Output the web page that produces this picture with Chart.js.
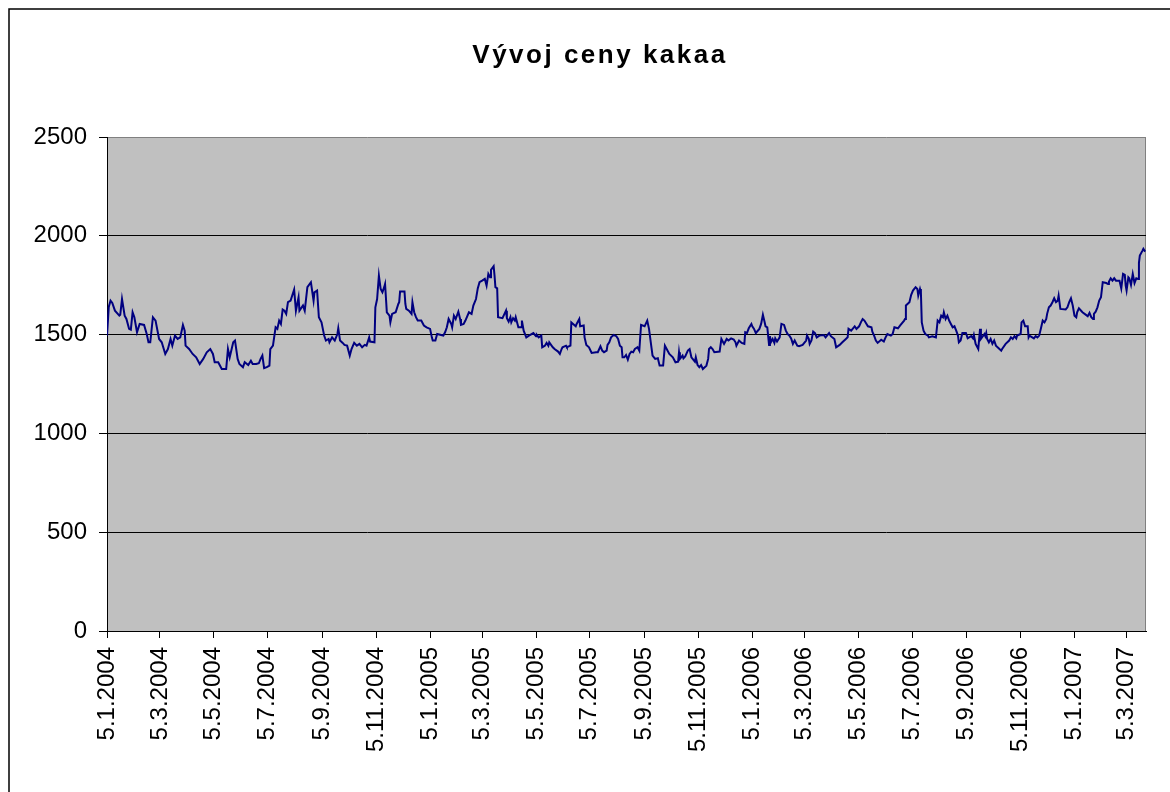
<!DOCTYPE html>
<html>
<head>
<meta charset="utf-8">
<script src="https://cdn.jsdelivr.net/npm/chart.js@4/dist/chart.umd.min.js"></script>
<style>
html, body { margin: 0; padding: 0; background: #fff; }
#wrap { position: relative; width: 1170px; height: 792px; }
</style>
</head>
<body>
<div id="wrap"><canvas id="cocoaChart"></canvas></div>
<script>
// Cocoa price 5.1.2004 – end of March 2007

const chartTitle = 'Vývoj ceny kakaa';
const lastDay = 1177; // right edge of the plot, days after 5.1.2004

const tickLabels = ['5.1.2004','5.3.2004','5.5.2004','5.7.2004','5.9.2004','5.11.2004',
  '5.1.2005','5.3.2005','5.5.2005','5.7.2005','5.9.2005','5.11.2005',
  '5.1.2006','5.3.2006','5.5.2006','5.7.2006','5.9.2006','5.11.2006',
  '5.1.2007','5.3.2007'];
const yTicks = [0, 500, 1000, 1500, 2000, 2500];

// day offsets from 5.1.2004
const days = [
  0,2,4,6,9,14,15,17,20,22,25,27,29,31,34,37,42,45,47,49,52,55,59,62,66,69,72,74,77,80,83,86,88,89,93,97,
  101,105,109,113,117,120,122,126,130,135,137,139,143,145,148,150,154,156,160,163,165,169,172,174,176,178,
  181,184,185,188,191,193,195,197,199,201,203,205,208,212,214,217,218,222,224,227,231,234,235,238,240,243,
  246,248,251,252,255,258,261,262,264,267,269,272,275,277,280,283,286,289,292,294,297,298,303,304,306,308,
  310,312,314,315,317,320,321,323,327,330,331,332,337,338,339,342,345,346,348,350,352,356,359,362,366,368,
  369,372,374,381,383,385,387,390,391,393,395,398,400,401,404,406,410,413,415,418,420,422,425,428,430,432,
  434,435,438,439,440,442,443,448,452,453,455,457,458,460,462,463,466,469,470,472,475,478,483,486,487,489,
  492,493,496,498,500,501,505,507,511,513,515,516,520,521,525,526,528,531,532,535,536,540,541,543,546,549,
  554,556,559,561,563,566,567,569,571,574,577,579,581,583,584,586,588,590,592,594,596,598,601,603,605,609,
  612,614,616,618,621,624,626,630,632,634,637,641,644,647,648,649,652,653,655,658,660,662,666,667,669,671,
  673,675,679,681,682,684,686,688,694,696,699,702,704,707,710,712,713,716,719,722,723,725,727,730,731,733,
  735,739,741,743,745,746,748,750,751,752,754,756,757,759,762,764,767,769,771,773,775,777,779,782,784,788,
  792,793,795,796,798,800,802,804,807,812,814,818,820,824,826,830,833,837,839,840,843,847,849,852,854,856,
  858,862,866,867,869,871,873,877,880,882,884,888,890,892,896,899,903,904,905,909,911,913,916,918,919,921,
  922,923,925,927,930,931,935,939,941,943,945,947,948,950,952,954,956,958,960,962,964,965,967,969,973,975,
  979,981,982,984,987,988,989,990,994,995,996,997,999,1001,1003,1005,1007,1011,1013,1014,1018,1022,1024,
  1026,1028,1030,1031,1035,1036,1038,1040,1043,1044,1045,1050,1052,1054,1056,1058,1060,1062,1064,1065,1067,
  1069,1071,1073,1075,1077,1078,1080,1086,1088,1090,1092,1094,1096,1098,1099,1101,1105,1109,1111,1113,1115,
  1117,1118,1120,1122,1124,1126,1128,1132,1134,1135,1137,1139,1141,1143,1147,1149,1151,1153,1154,1155,1157,
  1158,1160,1162,1164,1166,1168,1169,1170,1173,1174,1176
];

const prices = [
  1495,1640,1672,1660,1621,1596,1600,1680,1596,1579,1529,1525,1613,1588,1512,1554,1549,1503,1461,1461,1588,1571,1478,1461,1402,1427,1478,1444,1495,1478,1486,1549,1520,1444,1427,1402,
  1385,1351,1377,1410,1427,1402,1360,1360,1326,1326,1427,1385,1461,1470,1377,1351,1335,1360,1346,1368,1351,1351,1355,1377,1394,1330,
  1335,1343,1427,1444,1537,1529,1571,1554,1627,1621,1605,1664,1672,1728,1621,1689,1621,1647,1621,1740,1765,1672,1714,1723,1588,1562,
  1495,1470,1478,1461,1486,1470,1503,1532,1470,1458,1448,1444,1394,1427,1458,1444,1453,1436,1448,1444,1486,1465,1461,1638,1680,1798,
  1731,1714,1740,1756,1613,1596,1562,1605,1613,1655,1664,1718,1718,1655,1630,1621,1605,1664,1613,1588,1571,1571,1546,1537,1529,1486,
  1470,1470,1503,1495,1512,1537,1579,1554,1537,1596,1579,1616,1579,1549,1554,1571,1613,1605,1647,1680,1734,1765,1773,1782,1748,1807,
  1790,1828,1846,1799,1740,1734,1588,1583,1621,1583,1566,1588,1562,1583,1571,1588,1537,1537,1571,1520,1486,1495,1508,1492,1498,1486,
  1495,1436,1444,1458,1444,1461,1436,1427,1414,1402,1427,1436,1444,1436,1444,1562,1554,1542,1554,1579,1542,1546,1486,1448,1436,1407,
  1411,1411,1441,1419,1411,1419,1448,1461,1486,1498,1492,1478,1444,1436,1385,1385,1397,1373,1402,1414,1411,1427,1436,1419,1549,1542,
  1571,1529,1461,1394,1377,1380,1343,1343,1444,1427,1402,1385,1360,1363,1411,1377,1394,1380,1390,1419,1427,1385,1363,1385,1346,1335,
  1346,1326,1343,1377,1427,1436,1427,1411,1414,1478,1453,1478,1470,1481,1475,1461,1444,1470,1458,1453,1512,1508,1532,1554,1542,1529,
  1508,1529,1554,1600,1562,1542,1537,1448,1492,1461,1478,1458,1481,1465,1486,1554,1549,1520,1503,1495,1481,1453,1470,1444,1441,1448,
  1470,1495,1478,1453,1470,1515,1508,1486,1495,1498,1486,1508,1492,1478,1436,1448,1461,1478,1486,1529,1520,1542,1529,1542,1562,1579,
  1571,1542,1537,1515,1495,1470,1458,1474,1465,1486,1503,1495,1503,1537,1532,1549,1571,1579,1647,1664,1701,1723,1740,1731,1697,1731,
  1714,1562,1520,1503,1495,1486,1492,1486,1571,1562,1596,1588,1613,1579,1596,1571,1554,1537,1542,1520,1495,1461,1470,1508,1508,1481,
  1492,1481,1498,1453,1427,1478,1529,1478,1503,1492,1508,1478,1461,1478,1453,1470,1444,1427,1419,1427,1453,1470,1486,
  1478,1492,1481,1495,1503,1562,1571,1542,1542,1486,1495,1481,1492,1486,1495,1532,1571,1562,1579,1605,1638,
  1647,1664,1684,1664,1672,1697,1630,1627,1638,1664,1684,1647,1596,1588,1613,1633,1613,1600,1593,1610,1588,
  1579,1605,1616,1638,1672,1689,1765,1761,1756,1768,1785,1773,1785,1773,1773,1734,1807,1802,1748,1723,1790,
  1785,1751,1807,1761,1785,1782,1863,1900,1925,1934,1920
];

function dayOf(label) {
  const [d, m, y] = label.split('.').map(Number);
  return Math.round((Date.UTC(y, m - 1, d) - Date.UTC(2004, 0, 5)) / 86400000);
}
const tickDays = tickLabels.map(dayOf);

const FONT = '"Liberation Sans", Arial, sans-serif';

// grey plot area, outer frame and title, the way Excel draws them
const excelLook = {
  id: 'excelLook',
  beforeDraw(chart) {
    const { ctx, chartArea: a } = chart;
    ctx.save();
    ctx.fillStyle = '#fff';
    ctx.fillRect(0, 0, chart.width, chart.height);
    ctx.strokeStyle = '#000';
    ctx.lineWidth = 1.5;
    ctx.strokeRect(9, 9, chart.width + 40, chart.height + 40);
    ctx.fillStyle = '#c0c0c0';
    ctx.fillRect(a.left, a.top, a.right - a.left, a.bottom - a.top);
    ctx.strokeStyle = '#808080';
    ctx.lineWidth = 1;
    ctx.beginPath();
    ctx.moveTo(a.right - 0.5, a.top);
    ctx.lineTo(a.right - 0.5, a.bottom);
    ctx.stroke();
    ctx.restore();
  },
  afterDraw(chart) {
    const ctx = chart.ctx;
    ctx.save();
    ctx.font = 'bold 26px ' + FONT;
    ctx.letterSpacing = '2.5px';
    ctx.fillStyle = '#000';
    ctx.textAlign = 'center';
    ctx.textBaseline = 'alphabetic';
    ctx.fillText(chartTitle, 600, 63);
    ctx.restore();
  }
};

new Chart(document.getElementById('cocoaChart').getContext('2d'), {
  type: 'line',
  data: {
    datasets: [{
      data: days.map((d, i) => ({ x: d, y: prices[i] })),
      borderColor: '#000080',
      borderWidth: 2,
      pointRadius: 0,
      tension: 0,
      fill: false
    }]
  },
  options: {
    responsive: true,
    maintainAspectRatio: false,
    animation: false,
    layout: { padding: { top: 137, right: 24, left: 0, bottom: 0 } },
    plugins: { legend: { display: false }, tooltip: { enabled: false }, title: { display: false } },
    scales: {
      x: {
        type: 'linear',
        min: 0,
        max: lastDay,
        afterBuildTicks: s => { s.ticks = tickDays.map(v => ({ value: v })); },
        afterFit: s => { s.height = 161; },
        ticks: {
          autoSkip: false, minRotation: 90, maxRotation: 90, padding: 9,
          color: '#000', font: { family: FONT, size: 24 },
          callback: (v, i) => tickLabels[i]
        },
        grid: { drawOnChartArea: false, drawTicks: true, tickLength: 7, tickColor: '#000', color: '#000' },
        border: { color: '#000', width: 1 }
      },
      y: {
        min: 0,
        max: 2500,
        afterBuildTicks: s => { s.ticks = yTicks.map(v => ({ value: v })); },
        afterFit: s => { s.width = 107; },
        ticks: {
          padding: 12, color: '#000', font: { family: FONT, size: 24 },
          callback: v => String(v)
        },
        grid: {
          color: c => (c.tick && c.tick.value === 2500 ? '#808080' : '#000'),
          lineWidth: 1, tickLength: 8, tickColor: '#000'
        },
        border: { color: '#000', width: 1 }
      }
    }
  },
  plugins: [excelLook]
});
</script>
</body>
</html>
